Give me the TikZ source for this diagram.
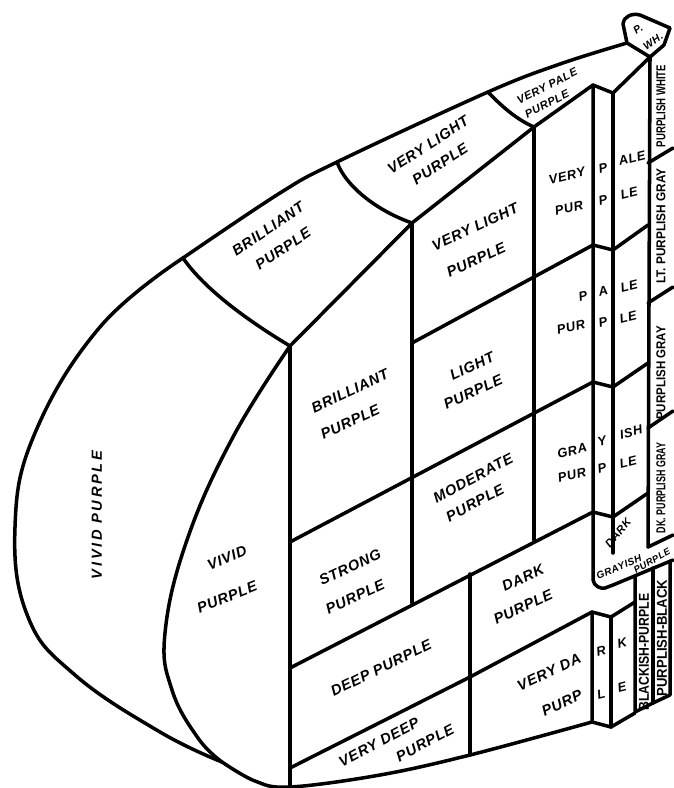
\documentclass[tikz,border=0pt]{standalone}
\usepackage{fontspec}
\setmainfont{Liberation Sans}
\newfontfamily\handfont{Liberation Sans}[LetterSpace=5]
\newfontfamily\widehand{Liberation Sans}[LetterSpace=18]
\usetikzlibrary{calc}
\newcommand\fitlabel[3]{\resizebox{#1}{#2}{\bfseries #3}}

\begin{document}
\begin{tikzpicture}[x=0.03cm, y=-0.03cm,
    edge/.style={line width=3pt, line join=round, line cap=round},
    hand/.style={font=\handfont\bfseries\itshape\fontsize{12.5}{14}\selectfont, inner sep=0pt},
    topface/.style={hand, rotate=34},
    front/.style={hand, rotate=25},
    split/.style={hand, rotate=14, font=\handfont\bfseries\itshape\fontsize{11}{13}\selectfont},
    small/.style={hand, font=\handfont\bfseries\itshape\fontsize{9.5}{11}\selectfont},
    neutral/.style={inner sep=0pt, rotate=90},
  ]
  \useasboundingbox (0,0) rectangle (673,788);

  % corners of the front face
  \coordinate (A0) at (290,346);
  \coordinate (B0) at (412,223);
  \coordinate (C0) at (534,127);
  \coordinate (D0) at (593,85);
  \coordinate (E0) at (613,93);
  \coordinate (F0) at (650,57);
  \coordinate (M0) at (222,762);

  % outline
  \draw[edge] plot[smooth, tension=0.7] coordinates {(183,258) (100,327) (35,433) (15,527) (28,617) (75,675) (160,732) (M0)};
  \draw[edge] plot[smooth, tension=0.7] coordinates {(A0) (233,437) (187,540) (165,633) (172,690) (198,738) (M0)};
  \draw[edge] plot[smooth, tension=0.6] coordinates {(M0) (255,781) (290,787) (380,775) (470,755) (592,722)};
  \draw[edge] plot[smooth, tension=0.6] coordinates {(183,258) (280,193) (337,162) (488,92) (560,64) (627,43)};

  % top face
  \draw[edge] (183,258) .. controls (205,290) and (250,322) .. (A0);
  \draw[edge] (337,162) .. controls (345,185) and (375,210) .. (B0);
  \draw[edge] (488,92) .. controls (505,110) and (520,121) .. (C0);
  \draw[edge] (A0) -- (B0) -- (C0) -- (D0) -- (E0) -- (F0);
  \draw[edge] (627,43) -- (623,24) .. controls (624,16) and (632,13) .. (640,15)
    -- (670,28) -- (664,45) -- (F0) -- cycle;

  % columns
  \draw[edge] (A0) -- (290,787);
  \draw[edge] (B0) -- (412,603);
  \draw[edge] (C0) -- (534,540);
  \draw[edge] (D0) -- (593,580) .. controls (594,586) and (600,589) .. (605,588) -- (613,585);
  \draw[edge] (E0) -- (613,553);
  \draw[edge] (F0) -- (648,547);
  \draw[edge] (470,574) -- (470,755);

  % rows
  \draw[edge] (412,343) -- (593,245) -- (613,250) -- (648,225);
  \draw[edge] (290,542) -- (593,382) -- (613,387) -- (648,363);
  \draw[edge] (290,668) -- (593,512) -- (613,517) -- (648,493);
  \draw[edge] (290,768) -- (470,677) -- (592,612) -- (611,617) -- (635,602);
  \draw[edge] (592,612) -- (592,722) -- (611,727) -- (635,713);
  \draw[edge] (611,617) -- (611,727);

  % neutral column
  \draw[edge] (648,163) -- (673,148);
  \draw[edge] (648,303) -- (673,287);
  \draw[edge] (648,428) -- (673,411);
  \draw[edge] (648,547) -- (673,535);
  \draw[edge] (613,585) -- (673,560);
  \draw[edge] (635,576) -- (635,712) -- (653,703) -- (670,695) -- (670,561);
  \draw[edge] (653,568) -- (653,703);

  % top face labels
  \node[topface] (tBr) at (268,229) {BRILLIANT};
  \node[topface] (tBrP) at (283,249) {PURPLE};
  \node[topface, rotate=-1] (tVl) at (428,145) {VERY LIGHT};
  \node[topface, rotate=-1] (tVlP) at (440,164) {PURPLE};
  \node[small, rotate=27] (tVp) at (547,86) {VERY PALE};
  \node[small, rotate=27] (tVpP) at (547,104) {PURPLE};
  \node[small, rotate=35, font=\handfont\bfseries\itshape\fontsize{9}{10}\selectfont] (tPw) at (638,29) {P.};
  \node[small, rotate=35, font=\handfont\bfseries\itshape\fontsize{9}{10}\selectfont] (tPwW) at (653,41) {WH.};

  % front face labels
  \node[front] (fBr) at (350,391) {BRILLIANT};
  \node[front] (fBrP) at (350,422) {PURPLE};
  \node[front] (fVl) at (475,227) {VERY LIGHT};
  \node[front] (fVlP) at (476,260) {PURPLE};
  \node[front] (fLt) at (472,366) {LIGHT};
  \node[front] (fLtP) at (473,392) {PURPLE};
  \node[front, rotate=3] (fMo) at (473,478) {MODERATE};
  \node[front, rotate=3] (fMoP) at (475,503) {PURPLE};
  \node[front] (fSt) at (350,567) {STRONG};
  \node[front] (fStP) at (355,597) {PURPLE};
  \node[front, rotate=1] (fDp) at (381,668) {DEEP PURPLE};
  \node[front, rotate=3] (fVd) at (379,742) {VERY DEEP};
  \node[front, rotate=3] (fVdP) at (425,743) {PURPLE};
  \node[front] (fDk) at (523,578) {DARK};
  \node[front] (fDkP) at (523,607) {PURPLE};
  \node[front] (fVk) at (549,672) {VERY DA};
  \node[split] (fVkR) at (601,651) {R};
  \node[split] (fVkK) at (622,643) {K};
  \node[front] (fVkP) at (562,703) {PURP};
  \node[split] (fVkL) at (601,694) {L};
  \node[split] (fVkE) at (622,687) {E};

  % split labels of the pale column
  \node[split] (cVp) at (567,176) {VERY};
  \node[split] (cVpA) at (603,168) {P};
  \node[split] (cVpB) at (632,158) {ALE};
  \node[split] (cVpC) at (569,208) {PUR};
  \node[split] (cVpD) at (603,200) {P};
  \node[split] (cVpE) at (629,193) {LE};
  \node[split] (cPa) at (583,296) {P};
  \node[split] (cPaA) at (603,291) {A};
  \node[split] (cPaB) at (629,286) {LE};
  \node[split] (cPaC) at (571,327) {PUR};
  \node[split] (cPaD) at (603,322) {P};
  \node[split] (cPaE) at (628,317) {LE};
  \node[split] (cGr) at (572,451) {GRA};
  \node[split] (cGrA) at (602,441) {Y};
  \node[split] (cGrB) at (631,432) {ISH};
  \node[split] (cGrC) at (572,475) {PUR};
  \node[split] (cGrD) at (602,468) {P};
  \node[split] (cGrE) at (628,462) {LE};
  \node[small, rotate=50] (cDg) at (618,533) {DARK};
  \node[small, rotate=22, font=\handfont\bfseries\itshape\fontsize{8.5}{10}\selectfont] (cDgA) at (619,567) {GRAYISH};
  \node[small, rotate=30, font=\handfont\bfseries\itshape\fontsize{8}{10}\selectfont] (cDgB) at (652,561) {PURPLE};

  % vivid labels
  \node[hand, rotate=90, font=\widehand\bfseries\itshape\fontsize{12.5}{15}\selectfont] (vOut) at (97,515) {VIVID PURPLE};
  \node[hand, rotate=22] (vIn) at (227,558) {VIVID};
  \node[hand, rotate=22] (vInP) at (227,597) {PURPLE};

  % neutral labels
  \node[neutral] (nPw) at (661,106) {\fitlabel{2.46cm}{0.27cm}{PURPLISH WHITE}};
  \node[neutral] (nLg) at (661,226) {\fitlabel{3.45cm}{0.27cm}{LT. PURPLISH GRAY}};
  \node[neutral] (nPg) at (661,373) {\fitlabel{2.8cm}{0.27cm}{PURPLISH GRAY}};
  \node[neutral] (nDg) at (661,488) {\fitlabel{2.7cm}{0.27cm}{DK. PURPLISH GRAY}};
  \node[neutral] (nBp) at (644,652) {\fitlabel{3.5cm}{0.3cm}{BLACKISH-PURPLE}};
  \node[neutral] (nPb) at (662,638) {\fitlabel{3.5cm}{0.3cm}{PURPLISH-BLACK}};
\end{tikzpicture}
\end{document}
